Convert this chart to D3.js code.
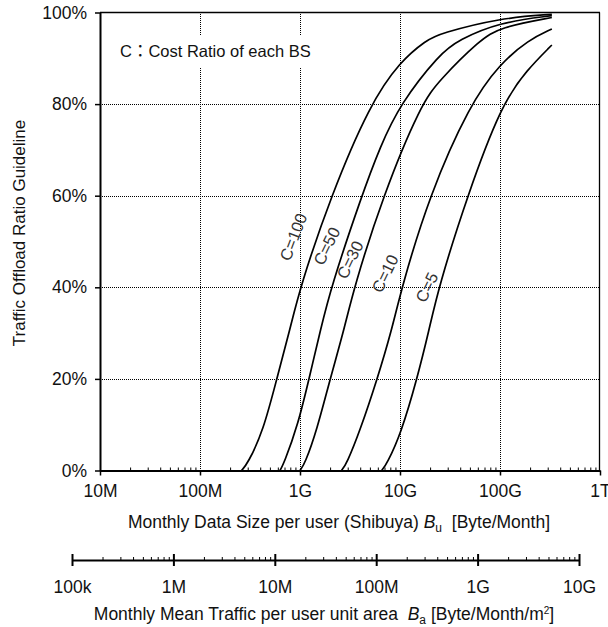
<!DOCTYPE html>
<html>
<head>
<meta charset="utf-8">
<script src="https://cdn.jsdelivr.net/npm/d3@7"></script>
<style>
    body { margin: 0; background: #fff; }
    text { font-family: "Liberation Sans", Arial, Helvetica, sans-serif; fill: #111; }
</style>
</head>
<body>
<div id="chart"></div>
<script>
// values: data size per user [Byte] -> offload ratio [%]
const costRatios = [100, 50, 30, 10, 5];

const bytesC100 = [2.6e8, 3.0e8, 4.3e8, 5.85e8, 7.9e8, 1e9, 2.04e9, 5.0e9, 1e10, 1.85e10, 2.5e10, 1e11, 3.3e11];
const ratioC100 = [0, 1.5, 8.7, 20, 30.6, 40, 60, 80, 89.3, 94, 95.4, 98.8, 99.6];

const bytesC50 = [6.3e8, 6.9e8, 9.55e8, 1.23e9, 1.6e9, 2.04e9, 4.14e9, 6.3e9, 1e10, 2.5e10, 3.84e10, 1e11, 3.3e11];
const ratioC50 = [0, 1.5, 10, 20, 30.6, 40, 60, 70.6, 80, 91, 94, 97.9, 99.3];

const bytesC30 = [1e9, 1.12e9, 1.47e9, 2.0e9, 2.75e9, 3.47e9, 6.76e9, 1.62e10, 2.5e10, 6.3e10, 1e11, 3.3e11];
const ratioC30 = [0, 1.5, 8.7, 20, 30.6, 40, 60, 80, 85.3, 94, 96.8, 98.9];

const bytesC10 = [2.6e9, 2.93e9, 3.98e9, 5.93e9, 8.26e9, 1.04e10, 1.96e10, 5.0e10, 1e11, 1.92e11, 3.3e11];
const ratioC10 = [0, 1.5, 8.7, 20, 30.6, 40, 60, 80, 88.8, 94, 96.4];

const bytesC5 = [6.56e9, 7.4e9, 1.02e10, 1.48e10, 1.95e10, 2.43e10, 4.71e10, 1.04e11, 1.85e11, 3.3e11];
const ratioC5 = [0, 1.5, 8, 20, 30.6, 40, 60, 80, 87.4, 92.9];

const seriesBytes = [bytesC100, bytesC50, bytesC30, bytesC10, bytesC5];
const seriesRatio = [ratioC100, ratioC50, ratioC30, ratioC10, ratioC5];

// where each "C=" label sits, in data units
const labelBytes = [8.6e8, 1.85e9, 3.16e9, 7.1e9, 1.85e10];
const labelRatio = [51, 49, 46, 43, 40];

const userTicks = [1e7, 1e8, 1e9, 1e10, 1e11, 1e12];
const userTickLabels = ['10M', '100M', '1G', '10G', '100G', '1T'];
const areaTicks = [1e5, 1e6, 1e7, 1e8, 1e9, 1e10];
const areaTickLabels = ['100k', '1M', '10M', '100M', '1G', '10G'];
const ratioTicks = [0, 20, 40, 60, 80, 100];

const width = 608, height = 627;

const svg = d3.select('#chart')
    .append('svg')
    .attr('width', width)
    .attr('height', height);

const x = d3.scaleLog().domain([1e7, 1e12]).range([100, 600]);
const y = d3.scaleLinear().domain([0, 100]).range([470.5, 12.5]);
const x2 = d3.scaleLog().domain([1e5, 1e10]).range([72, 579]);

// minor tick values (2..9 per decade)
const minorTicks = (lo, hi) => {
    const out = [];
    for (let d = lo; d < hi; d *= 10) {
        for (let k = 2; k <= 9; k++) out.push(d * k);
    }
    return out;
};

// grid
const grid = svg.append('g')
    .attr('stroke', '#000')
    .attr('stroke-width', 1)
    .attr('stroke-dasharray', '1,1')
    .attr('shape-rendering', 'crispEdges');

grid.selectAll('.vgrid')
    .data(userTicks.slice(1, -1))
    .enter()
    .append('line')
    .attr('x1', d => Math.round(x(d)) + 0.5)
    .attr('x2', d => Math.round(x(d)) + 0.5)
    .attr('y1', y(0))
    .attr('y2', y(100));

grid.selectAll('.hgrid')
    .data(ratioTicks.slice(1, -1))
    .enter()
    .append('line')
    .attr('x1', x(1e7))
    .attr('x2', x(1e12))
    .attr('y1', d => Math.round(y(d)) + 0.5)
    .attr('y2', d => Math.round(y(d)) + 0.5);

// frame top / right
svg.append('line')
    .attr('x1', x(1e7)).attr('x2', x(1e12))
    .attr('y1', y(100)).attr('y2', y(100))
    .attr('stroke', '#000').attr('stroke-width', 1.3);
svg.append('line')
    .attr('x1', x(1e12) - 0.5).attr('x2', x(1e12) - 0.5)
    .attr('y1', y(0)).attr('y2', y(100))
    .attr('stroke', '#000').attr('stroke-width', 1.3);

// note box
svg.append('rect')
    .attr('x', 114).attr('y', 35)
    .attr('width', 208).attr('height', 32)
    .attr('fill', '#fff');
svg.append('text')
    .attr('x', 120).attr('y', 57)
    .style('font-size', '16.5px')
    .style('font-family', '"Liberation Sans", Arial, "Noto Sans CJK JP", sans-serif')
    .text('C：Cost Ratio of each BS');

// curves
const line = d3.line()
    .x(d => x(d[0]))
    .y(d => y(d[1]))
    .curve(d3.curveBasis);

svg.selectAll('.curve')
    .data(seriesBytes.map((b, i) => b.map((v, j) => [v, seriesRatio[i][j]])))
    .enter()
    .append('path')
    .attr('class', 'curve')
    .attr('d', line)
    .attr('fill', 'none')
    .attr('stroke', '#000')
    .attr('stroke-width', 1.7);

svg.selectAll('.clabel')
    .data(costRatios)
    .enter()
    .append('text')
    .attr('class', 'clabel')
    .attr('text-anchor', 'middle')
    .attr('dy', '0.35em')
    .attr('transform', (d, i) => `translate(${x(labelBytes[i])},${y(labelRatio[i])}) rotate(${i === 0 ? -69 : -64})`)
    .style('font-size', '16.5px')
    .style('fill', '#333')
    .text(d => 'C=' + d);

// x axis (per user)
const xAxis = svg.append('g')
    .attr('transform', `translate(0,${y(0)})`)
    .call(d3.axisBottom(x)
        .tickValues(userTicks)
        .tickFormat((d, i) => userTickLabels[i])
        .tickSize(5)
        .tickSizeOuter(0)
        .tickPadding(9));
xAxis.select('.domain').attr('stroke-width', 2);
xAxis.selectAll('.tick line').attr('stroke-width', 1.5);
xAxis.selectAll('text').style('font-size', '17.5px').style('font-family', null);

svg.append('g')
    .attr('transform', `translate(0,${y(0)})`)
    .call(d3.axisBottom(x).tickValues(minorTicks(1e7, 1e12)).tickSize(-3).tickFormat(''))
    .call(g => g.select('.domain').remove());

// y axis
const yAxis = svg.append('g')
    .attr('transform', `translate(${x(1e7)},0)`)
    .call(d3.axisLeft(y)
        .tickValues(ratioTicks)
        .tickFormat(d => d + '%')
        .tickSize(5)
        .tickSizeOuter(0)
        .tickPadding(8));
yAxis.select('.domain').attr('stroke-width', 2);
yAxis.selectAll('.tick line').attr('stroke-width', 1.5);
yAxis.selectAll('text').style('font-size', '17.5px').style('font-family', null);

// second axis (per unit area)
const axisY2 = 560;
const aAxis = svg.append('g')
    .attr('transform', `translate(0,${axisY2})`)
    .call(d3.axisBottom(x2)
        .tickValues(areaTicks)
        .tickFormat((d, i) => areaTickLabels[i])
        .tickSize(6)
        .tickSizeOuter(0)
        .tickPadding(15));
aAxis.select('.domain').attr('stroke-width', 2);
aAxis.selectAll('.tick line').attr('y1', -6).attr('stroke-width', 2);
aAxis.selectAll('text').style('font-size', '17.5px').style('font-family', null);

svg.append('g')
    .attr('transform', `translate(0,${axisY2})`)
    .call(d3.axisBottom(x2).tickValues(minorTicks(1e5, 1e10)).tickSize(-3).tickFormat(''))
    .call(g => g.select('.domain').remove());

// titles
const t1 = svg.append('text')
    .attr('x', 339).attr('y', 528)
    .attr('text-anchor', 'middle')
    .style('font-size', '17.5px')
    .attr('xml:space', 'preserve');
t1.append('tspan').text('Monthly Data Size per user (Shibuya) ');
t1.append('tspan').style('font-style', 'italic').text('B');
t1.append('tspan').attr('dy', 4).style('font-size', '12px').text('u');
t1.append('tspan').attr('dy', -4).text('  [Byte/Month]');

const t2 = svg.append('text')
    .attr('x', 324).attr('y', 620)
    .attr('text-anchor', 'middle')
    .style('font-size', '17.5px')
    .attr('xml:space', 'preserve');
t2.append('tspan').text('Monthly Mean Traffic per user unit area  ');
t2.append('tspan').style('font-style', 'italic').text('B');
t2.append('tspan').attr('dy', 4).style('font-size', '12px').text('a');
t2.append('tspan').attr('dy', -4).text(' [Byte/Month/m');
t2.append('tspan').attr('dy', -6).style('font-size', '10px').text('2');
t2.append('tspan').attr('dy', 6).text(']');

svg.append('text')
    .attr('transform', 'translate(25,233) rotate(-90)')
    .attr('text-anchor', 'middle')
    .style('font-size', '17px')
    .text('Traffic Offload Ratio Guideline');
</script>
</body>
</html>
